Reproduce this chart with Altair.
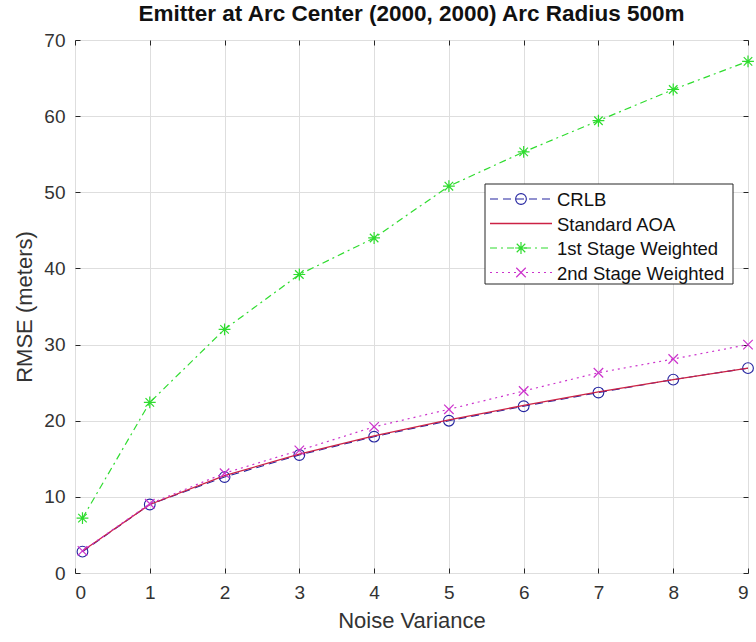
import altair as alt
import pandas as pd

# Noise variance levels
noise_var = [0.1, 1, 2, 3, 4, 5, 6, 7, 8, 9]

# RMSE (meters) for each estimator
crlb = [2.8, 9.0, 12.6, 15.5, 17.9, 20.0, 21.9, 23.7, 25.4, 26.9]
standard_aoa = [2.9, 9.0, 12.8, 15.6, 18.0, 20.1, 22.0, 23.8, 25.4, 26.9]
stage1_weighted = [7.2, 22.4, 32.0, 39.2, 44.0, 50.8, 55.3, 59.4, 63.5, 67.2]
stage2_weighted = [2.9, 9.1, 13.1, 16.1, 19.2, 21.5, 23.9, 26.3, 28.1, 30.0]

series_names = ["CRLB", "Standard AOA", "1st Stage Weighted", "2nd Stage Weighted"]
series_values = [crlb, standard_aoa, stage1_weighted, stage2_weighted]

x_ticks = list(range(0, 10))
y_ticks = list(range(0, 71, 10))

FONT = "Liberation Sans"
AXIS_INK = "#262626"
ASTERISK = "M-1,0L1,0M0,-1L0,1M-0.72,-0.72L0.72,0.72M-0.72,0.72L0.72,-0.72"
XMARK = "M-1,-1L1,1M-1,1L1,-1"

# line colour, dash, marker shape, marker size, stroke width
styles = {
    "CRLB": dict(color="#2424a0", dash=[8, 5], shape="circle", size=115, sw=1.1),
    "Standard AOA": dict(color="#cc2244", dash=None, shape=None, size=0, sw=1.3),
    "1st Stage Weighted": dict(color="#2fdc2f", dash=[7, 4, 2, 4], shape=ASTERISK, size=140, sw=1.2),
    "2nd Stage Weighted": dict(color="#cc33cc", dash=[2, 4], shape=XMARK, size=90, sw=1.2),
}


def line_props(st):
    props = dict(color=st["color"], strokeWidth=st["sw"])
    if st["dash"] is not None:
        props["strokeDash"] = st["dash"]
    return props


x_scale = alt.Scale(domain=[0, 9], nice=False, zero=False)
y_scale = alt.Scale(domain=[0, 70], nice=False)

# Main axes: labels and grid, ticks pointing into the plot box
x_axis = alt.Axis(
    title="Noise Variance", values=x_ticks, format="d",
    grid=True, gridColor="#dedede", domain=False,
    ticks=True, tickSize=5, offset=-5, tickColor=AXIS_INK,
    labelFont=FONT, labelFontSize=19, labelColor="#333333", labelPadding=10,
    titleFont=FONT, titleFontSize=22, titleFontWeight="normal", titleColor="#333333",
    titlePadding=8,
)
y_axis = alt.Axis(
    title="RMSE (meters)", values=y_ticks,
    grid=True, gridColor="#dedede", domain=False,
    ticks=True, tickSize=5, offset=-5, tickColor=AXIS_INK,
    labelFont=FONT, labelFontSize=19, labelColor="#333333", labelPadding=10,
    titleFont=FONT, titleFontSize=22, titleFontWeight="normal", titleColor="#333333",
    titlePadding=7,
)

# Mirror axes on top and right carry only the inward ticks
x_axis_top = alt.Axis(orient="top", values=x_ticks, labels=False, title=None, grid=False,
                      domain=False, ticks=True, tickSize=5, offset=-5, tickColor=AXIS_INK)
y_axis_right = alt.Axis(orient="right", values=y_ticks, labels=False, title=None, grid=False,
                        domain=False, ticks=True, tickSize=5, offset=-5, tickColor=AXIS_INK)

layers = []
for name, vals in zip(series_names, series_values):
    st = styles[name]
    df = pd.DataFrame({"x": noise_var, "y": vals, "series": name})
    base = alt.Chart(df).encode(
        x=alt.X("x:Q", scale=x_scale, axis=x_axis),
        y=alt.Y("y:Q", scale=y_scale, axis=y_axis),
    )
    layers.append(base.mark_line(**line_props(st)))
    if st["shape"] is not None:
        layers.append(base.mark_point(shape=st["shape"], size=st["size"], filled=False,
                                      color=st["color"], strokeWidth=st["sw"], opacity=1))

# Legend box in the upper right of the plot area
one = pd.DataFrame({"k": [0]})
layers.append(alt.Chart(one).mark_rect(fill="white", stroke=AXIS_INK, strokeWidth=1).encode(
    x=alt.value(410), x2=alt.value(658), y=alt.value(144), y2=alt.value(244)))

row_y = [159, 183.5, 208, 232.5]
for name, yy in zip(series_names, row_y):
    st = styles[name]
    layers.append(alt.Chart(one).mark_rule(**line_props(st)).encode(
        x=alt.value(415), x2=alt.value(477), y=alt.value(yy)))
    if st["shape"] is not None:
        layers.append(alt.Chart(one).mark_point(shape=st["shape"], size=st["size"], filled=False,
                                                color=st["color"], strokeWidth=st["sw"], opacity=1).encode(
            x=alt.value(446), y=alt.value(yy)))
    layers.append(alt.Chart(one).mark_text(text=name, align="left", baseline="middle",
                                           font=FONT, fontSize=18.5, color="#111111").encode(
        x=alt.value(482), y=alt.value(yy + 1)))

plot = alt.layer(*layers)

mirror = alt.Chart(pd.DataFrame({"x": noise_var, "y": crlb})).mark_point(opacity=0).encode(
    x=alt.X("x:Q", scale=x_scale, axis=x_axis_top),
    y=alt.Y("y:Q", scale=y_scale, axis=y_axis_right),
)

chart = alt.layer(plot, mirror).resolve_axis(x="independent", y="independent").properties(
    width=673, height=533,
    title=alt.TitleParams("Emitter at Arc Center (2000, 2000) Arc Radius 500m",
                          font=FONT, fontSize=22.5, fontWeight="bold", color="#111111",
                          anchor="middle", offset=6),
    autosize=alt.AutoSizeParams(type="none"),
    padding={"left": 75, "top": 40, "right": 8, "bottom": 69},
).configure_view(stroke=AXIS_INK, strokeWidth=1.2).configure(background="white")

chart.save("out.html", embed_options={"renderer": "svg", "actions": False})
